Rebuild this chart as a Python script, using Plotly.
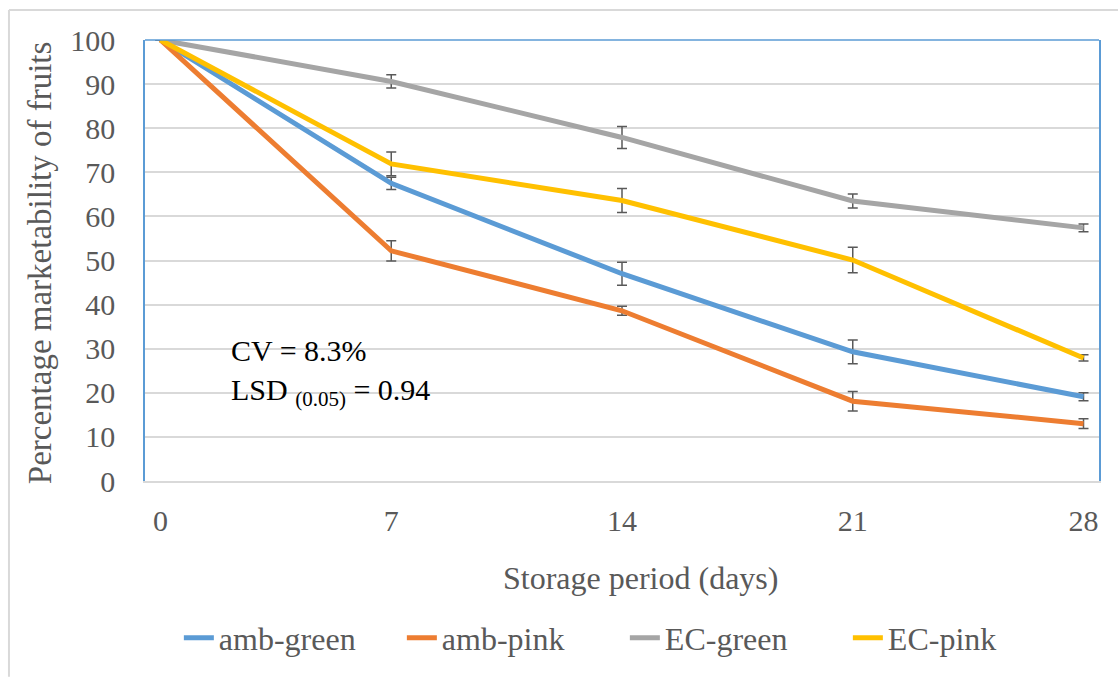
import plotly.graph_objects as go

days = [0, 7, 14, 21, 28]
series_names = ["amb-green", "amb-pink", "EC-green", "EC-pink"]
amb_green = [100, 67.5, 47.0, 29.3, 19.1]
amb_pink = [100, 52.2, 38.6, 18.1, 13.0]
ec_green = [100, 90.6, 77.9, 63.5, 57.4]
ec_pink = [100, 71.9, 63.6, 50.1, 27.9]
err_amb_green = [0, 1.4, 2.6, 2.7, 0.9]
err_amb_pink = [0, 2.3, 1.0, 2.2, 1.1]
err_ec_green = [0, 1.5, 2.5, 1.6, 0.9]
err_ec_pink = [0, 2.7, 2.7, 2.9, 0.7]
colors = ["#5B9BD5", "#ED7D31", "#A5A5A5", "#FFC000"]
y_ticks = list(range(0, 101, 10))

values = [amb_green, amb_pink, ec_green, ec_pink]
errors = [err_amb_green, err_amb_pink, err_ec_green, err_ec_pink]

FONT = "Times New Roman, Liberation Serif, DejaVu Serif, serif"
GRAY_TXT = "#595959"

fig = go.Figure()
for name, vals, errs, col in zip(series_names, values, errors, colors):
    fig.add_trace(go.Scatter(
        x=days, y=vals, name=name, mode="lines",
        line=dict(color=col, width=5),
        error_y=dict(type="data", array=errs, visible=True,
                     color="#595959", thickness=1.5, width=5),
    ))

fig.update_layout(
    width=1118, height=677,
    margin=dict(l=145, r=19, t=40, b=196),
    paper_bgcolor="white", plot_bgcolor="white",
    font=dict(family=FONT, color=GRAY_TXT, size=30),
    showlegend=True,
    legend=dict(orientation="h", x=0.503, xanchor="center", y=-0.356, yanchor="middle",
                font=dict(family=FONT, size=32, color=GRAY_TXT), itemwidth=30,
                traceorder="normal", entrywidth=178),
    xaxis=dict(range=[-0.47, 28.47], tickvals=days, ticktext=[str(d) for d in days],
               showgrid=False, zeroline=False, showline=True, linecolor="#D9D9D9", linewidth=2,
               ticks="outside", ticklen=12, tickcolor="rgba(0,0,0,0)",
               tickfont=dict(family=FONT, size=30, color=GRAY_TXT)),
    yaxis=dict(range=[0, 100], tickvals=y_ticks,
               showgrid=True, gridcolor="#D9D9D9", gridwidth=2, zeroline=False,
               showline=True, mirror=True, linecolor="#5B9BD5", linewidth=1.5,
               ticks="outside", ticklen=22, tickcolor="rgba(0,0,0,0)",
               tickfont=dict(family=FONT, size=30, color=GRAY_TXT)),
    shapes=[
        dict(type="line", xref="paper", yref="paper", x0=0, x1=1, y0=1, y1=1,
             line=dict(color="#5B9BD5", width=1.5)),
        dict(type="line", xref="paper", yref="paper", x0=-0.1426, x1=-0.1426, y0=-0.444, y1=1.068,
             line=dict(color="#D9D9D9", width=2)),
        dict(type="line", xref="paper", yref="paper", x0=-0.1426, x1=1.03, y0=1.068, y1=1.068,
             line=dict(color="#D9D9D9", width=2)),
    ],
    annotations=[
        dict(text="Storage period (days)", xref="paper", yref="paper", x=0.519, y=-0.22,
             xanchor="center", yanchor="middle", showarrow=False,
             font=dict(family=FONT, size=32, color=GRAY_TXT)),
        dict(text="Percentage marketability of fruits", xref="paper", yref="paper",
             x=-0.11, y=0.494, xanchor="center", yanchor="middle", textangle=-90,
             showarrow=False, font=dict(family=FONT, size=33, color=GRAY_TXT)),
        dict(text="CV = 8.3%<br>LSD <sub>(0.05)</sub> = 0.94", x=2.08, y=24.5, xref="x", yref="y",
             xanchor="left", yanchor="middle", align="left", showarrow=False,
             font=dict(family=FONT, size=30, color="black")),
    ],
)

fig.write_html("out.html")
